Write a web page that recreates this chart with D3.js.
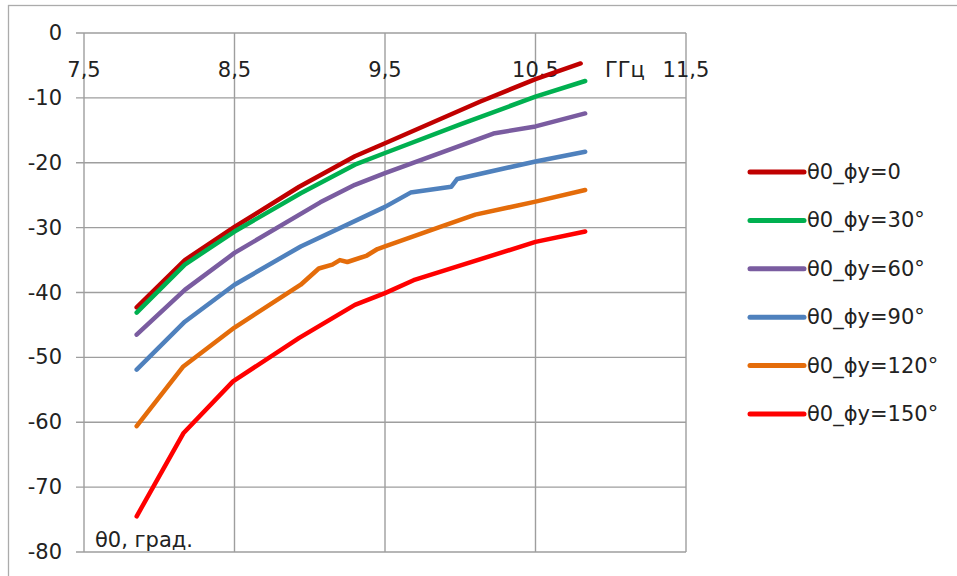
<!DOCTYPE html>
<html>
<head>
<meta charset="utf-8">
<script src="https://cdn.jsdelivr.net/npm/d3@7"></script>
<style>
  html, body { margin: 0; padding: 0; background: #ffffff; }
  svg { display: block; }
  text { font-family: "DejaVu Sans", sans-serif; fill: #222222; }
</style>
</head>
<body>
<svg id="chart" width="957" height="576"></svg>
<script>
// ---- data (frequency in GHz, angle in degrees) ----
const seriesNames = ["θ0_ϕy=0", "θ0_ϕy=30°", "θ0_ϕy=60°", "θ0_ϕy=90°", "θ0_ϕy=120°", "θ0_ϕy=150°"];
const seriesColors = ["#C00000", "#00B050", "#7A5CA0", "#4F81BD", "#E46C0A", "#FF0000"];

const phi0 = [[7.85,-42.3],[8.17,-35.0],[8.5,-29.9],[8.93,-23.7],[9.3,-19.0],[9.5,-17.0],[10.13,-10.6],[10.5,-7.1],[10.8,-4.7]];
const phi30 = [[7.85,-43.1],[8.17,-35.7],[8.5,-30.6],[8.94,-24.7],[9.3,-20.3],[9.5,-18.5],[10.0,-14.1],[10.5,-9.8],[10.83,-7.4]];
const phi60 = [[7.85,-46.5],[8.17,-39.6],[8.5,-33.9],[9.07,-26.1],[9.3,-23.4],[9.5,-21.6],[10.22,-15.5],[10.5,-14.4],[10.83,-12.4]];
const phi90 = [[7.85,-51.9],[8.17,-44.5],[8.5,-38.8],[8.94,-32.9],[9.5,-26.8],[9.67,-24.6],[9.94,-23.7],[9.98,-22.5],[10.5,-19.8],[10.83,-18.3]];
const phi120 = [[7.85,-60.6],[8.16,-51.4],[8.5,-45.4],[8.94,-38.8],[9.06,-36.3],[9.15,-35.7],[9.2,-35.0],[9.25,-35.3],[9.38,-34.3],[9.45,-33.3],[9.5,-32.9],[9.9,-29.6],[10.1,-28.0],[10.5,-26.0],[10.83,-24.2]];
const phi150 = [[7.85,-74.5],[8.16,-61.7],[8.49,-53.7],[8.93,-47.0],[9.3,-41.9],[9.5,-40.1],[9.69,-38.1],[10.5,-32.2],[10.83,-30.6]];
const seriesData = [phi0, phi30, phi60, phi90, phi120, phi150];

const xTicks = [7.5, 8.5, 9.5, 10.5, 11.5];
const yTicks = [0, -10, -20, -30, -40, -50, -60, -70, -80];
const xUnit = "ГГц";
const yUnit = "θ0, град.";

// ---- layout ----
const svg = d3.select("#chart");
const pLeft = 84, pRight = 686, pTop = 33, pBottom = 552;
const x = d3.scaleLinear().domain([7.5, 11.5]).range([pLeft, pRight]);
const y = d3.scaleLinear().domain([0, -80]).range([pTop, pBottom]);
const fmt = d => String(d).replace(".", ",");
const fs = "21px";

// outer chart border (only top/left visible)
svg.append("rect").attr("x", 8.5).attr("y", 5.5).attr("width", 960).attr("height", 600)
  .attr("fill", "none").attr("stroke", "#ABABAB").attr("stroke-width", 1.3);

const grid = svg.append("g");
grid.selectAll("line.h").data(yTicks).join("line")
  .attr("x1", pLeft - 8).attr("x2", pRight)
  .attr("y1", d => y(d)).attr("y2", d => y(d))
  .attr("stroke", "#9E9E9E").attr("stroke-width", 1.4);
grid.selectAll("line.v").data(xTicks).join("line")
  .attr("x1", d => x(d)).attr("x2", d => x(d))
  .attr("y1", pTop).attr("y2", pBottom)
  .attr("stroke", "#9E9E9E").attr("stroke-width", 1.4);

// y tick labels
svg.append("g").selectAll("text").data(yTicks).join("text")
  .attr("x", 62).attr("y", d => y(d))
  .attr("text-anchor", "end").attr("dominant-baseline", "central")
  .style("font-size", fs)
  .text(d => d);

// x tick labels
svg.append("g").selectAll("text").data(xTicks).join("text")
  .attr("x", d => x(d)).attr("y", 70)
  .attr("text-anchor", "middle").attr("dominant-baseline", "central")
  .style("font-size", fs)
  .text(fmt);

// unit labels
svg.append("text").attr("x", 605).attr("y", 70).attr("dominant-baseline", "central")
  .style("font-size", fs).text(xUnit);
svg.append("text").attr("x", 95).attr("y", 540).attr("dominant-baseline", "central")
  .style("font-size", fs).text(yUnit);

// series lines
const line = d3.line().x(d => x(d[0])).y(d => y(d[1]));
svg.append("g").selectAll("path").data(seriesData).join("path")
  .attr("d", line)
  .attr("fill", "none")
  .attr("stroke", (d, i) => seriesColors[i])
  .attr("stroke-width", 4.5)
  .attr("stroke-linejoin", "round")
  .attr("stroke-linecap", "round");

// legend
const ly = d3.scalePoint().domain(seriesNames).range([172, 414]);
const leg = svg.append("g").selectAll("g").data(seriesNames).join("g")
  .attr("transform", d => `translate(0,${ly(d)})`);
leg.append("line").attr("x1", 750).attr("x2", 804).attr("y1", 0).attr("y2", 0)
  .attr("stroke", (d, i) => seriesColors[i]).attr("stroke-width", 5).attr("stroke-linecap", "round");
leg.append("text").attr("x", 807).attr("y", 0).attr("dominant-baseline", "central")
  .style("font-size", fs).text(d => d);
</script>
</body>
</html>
